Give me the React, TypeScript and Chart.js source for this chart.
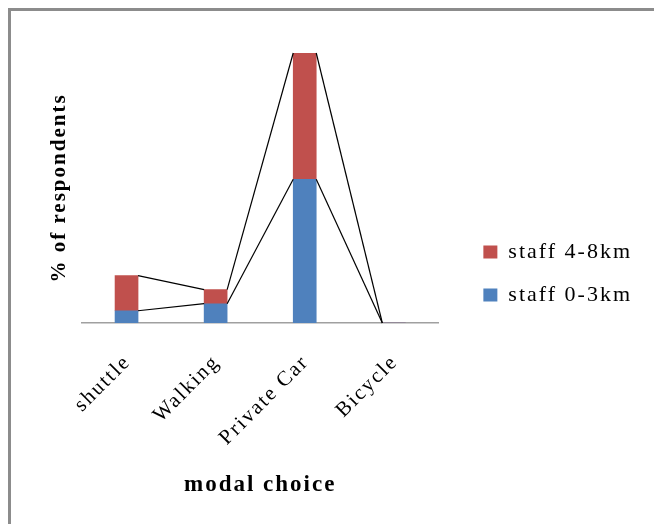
import React, { useEffect, useRef } from "react";
import { Chart, registerables } from "chart.js";

Chart.register(...registerables);

const categories = ["shuttle", "Walking", "Private Car", "Bicycle"];
const staff03 = [7, 11, 82, 0];
const staff48 = [20, 8, 72, 0];
const seriesNames = ["staff 0-3km", "staff 4-8km"];
const seriesColors = ["#4F81BD", "#C0504D"];
const xTitle = "modal choice";
const yTitle = "% of respondents";

const FONT = "'Liberation Serif', 'Times New Roman', serif";
const yMax = Math.max(...staff03.map((v, i) => v + staff48[i]));

const seriesLines = {
  id: "seriesLines",
  afterDatasetsDraw(chart: any) {
    const ctx = chart.ctx;
    ctx.save();
    ctx.strokeStyle = "#000";
    ctx.lineWidth = 1.2;
    chart.data.datasets.forEach((_: any, d: number) => {
      const meta = chart.getDatasetMeta(d);
      for (let i = 0; i < meta.data.length - 1; i++) {
        const a: any = meta.data[i];
        const b: any = meta.data[i + 1];
        ctx.beginPath();
        ctx.moveTo(a.x + a.width / 2, a.y);
        ctx.lineTo(b.x - b.width / 2, b.y);
        ctx.stroke();
      }
    });
    ctx.restore();
  },
};

const spacing = {
  id: "letterSpacing",
  beforeUpdate(chart: any) {
    chart.ctx.letterSpacing = "2px";
  },
  beforeDraw(chart: any) {
    chart.ctx.letterSpacing = "2px";
  },
};

export default function App() {
  const ref = useRef<HTMLCanvasElement>(null);

  useEffect(() => {
    if (!ref.current) return;
    const chart = new Chart(ref.current, {
      type: "bar",
      data: {
        labels: categories,
        datasets: [
          {
            label: seriesNames[0],
            data: staff03,
            backgroundColor: seriesColors[0],
            barThickness: 23,
          },
          {
            label: seriesNames[1],
            data: staff48,
            backgroundColor: seriesColors[1],
            barThickness: 23,
          },
        ],
      },
      options: {
        responsive: false,
        animation: false,
        layout: { padding: { left: 0, right: 12, top: 42, bottom: 30 } },
        plugins: {
          legend: {
            position: "right",
            reverse: true,
            maxWidth: 260,
            labels: {
              boxWidth: 14,
              boxHeight: 13,
              padding: 21,
              color: "#000",
              font: { family: FONT, size: 22 },
            },
          },
          tooltip: { enabled: false },
        },
        scales: {
          x: {
            stacked: true,
            grid: { display: false, drawTicks: false },
            border: { display: true, color: "#a0a0a0", width: 1.5 },
            ticks: {
              autoSkip: false,
              minRotation: 45,
              maxRotation: 45,
              padding: 27,
              labelOffset: 1,
              color: "#000",
              font: { family: FONT, size: 21 },
            },
            title: {
              display: true,
              text: xTitle,
              color: "#000",
              font: { family: FONT, size: 23, weight: "bold", lineHeight: 1 },
              padding: { top: 0, bottom: -3 },
            },
            afterFit: (s: any) => {
              s.height = 171;
            },
          },
          y: {
            stacked: true,
            min: 0,
            max: yMax,
            grid: { display: false, drawTicks: false },
            border: { display: false },
            ticks: { display: false },
            title: {
              display: true,
              text: yTitle,
              color: "#000",
              font: { family: FONT, size: 21, weight: "bold" },
              padding: { top: 36, bottom: 0 },
            },
            afterFit: (s: any) => {
              s.width = 71;
            },
          },
          y2: {
            position: "right",
            display: true,
            grid: { display: false, drawTicks: false },
            border: { display: false },
            ticks: { display: false },
            afterFit: (s: any) => {
              s.width = 24;
            },
          },
        },
      } as any,
      plugins: [spacing, seriesLines],
    });
    return () => chart.destroy();
  }, []);

  return (
    <div
      style={{
        position: "fixed",
        left: 8,
        top: 8,
        width: 646,
        height: 516,
        boxSizing: "border-box",
        borderTop: "3px solid #8c8c8c",
        borderLeft: "3px solid #8c8c8c",
        background: "#fff",
      }}
    >
      <canvas ref={ref} width={643} height={513} style={{ display: "block" }} />
    </div>
  );
}
